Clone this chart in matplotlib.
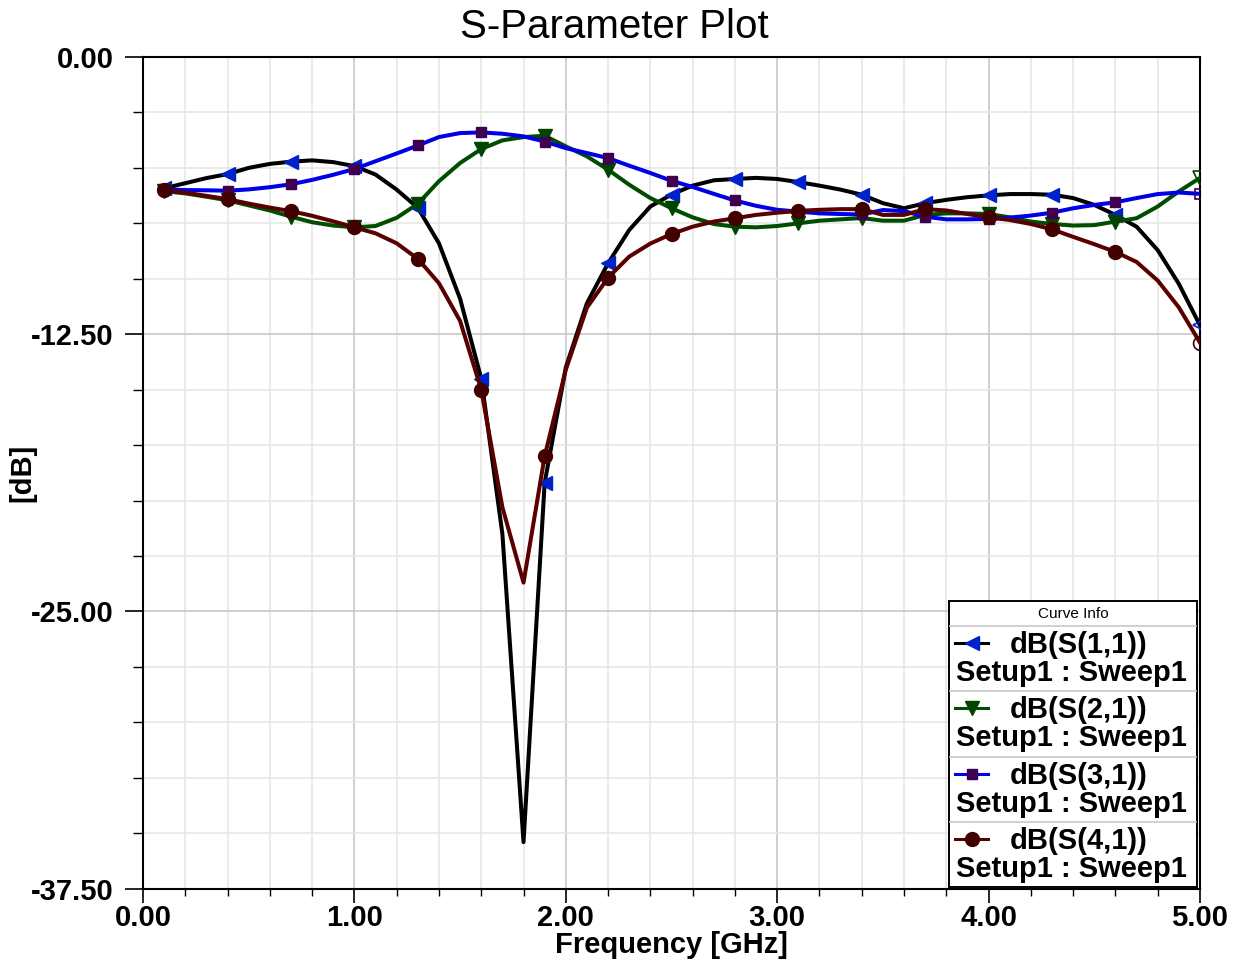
import matplotlib
matplotlib.use('Agg')
import matplotlib.pyplot as plt
from matplotlib.lines import Line2D
from matplotlib.patches import Rectangle
from matplotlib.ticker import MultipleLocator, FuncFormatter

# ---------------- data ----------------
freq_ghz = [0.1, 0.2, 0.3, 0.4, 0.5, 0.6, 0.7, 0.8, 0.9, 1.0,
            1.1, 1.2, 1.3, 1.4, 1.5, 1.6, 1.7, 1.8, 1.9, 2.0,
            2.1, 2.2, 2.3, 2.4, 2.5, 2.6, 2.7, 2.8, 2.9, 3.0,
            3.1, 3.2, 3.3, 3.4, 3.5, 3.6, 3.7, 3.8, 3.9, 4.0,
            4.1, 4.2, 4.3, 4.4, 4.5, 4.6, 4.7, 4.8, 4.9, 5.0]

s11_db = [-5.92, -5.69, -5.46, -5.28, -5.00, -4.82, -4.72, -4.66, -4.74, -4.92,
          -5.30, -5.98, -6.80, -8.40, -10.90, -14.50, -21.50, -35.40, -19.20, -14.00,
          -11.10, -9.30, -7.80, -6.74, -6.20, -5.80, -5.56, -5.50, -5.45, -5.50,
          -5.64, -5.80, -5.98, -6.21, -6.59, -6.82, -6.59, -6.44, -6.32, -6.24,
          -6.18, -6.18, -6.21, -6.36, -6.67, -7.12, -7.65, -8.71, -10.23, -12.10]

s21_db = [-6.05, -6.15, -6.30, -6.46, -6.69, -6.92, -7.20, -7.45, -7.60, -7.68,
          -7.62, -7.25, -6.62, -5.60, -4.78, -4.15, -3.76, -3.61, -3.55, -4.03,
          -4.48, -5.08, -5.76, -6.36, -6.82, -7.23, -7.53, -7.65, -7.68, -7.62,
          -7.50, -7.38, -7.32, -7.26, -7.38, -7.38, -7.12, -7.05, -7.05, -7.08,
          -7.23, -7.42, -7.53, -7.60, -7.58, -7.42, -7.27, -6.74, -6.06, -5.45]

s31_db = [-5.97, -6.00, -6.01, -6.03, -5.97, -5.87, -5.74, -5.54, -5.31, -5.05,
          -4.70, -4.35, -3.99, -3.61, -3.43, -3.40, -3.46, -3.58, -3.81, -4.11,
          -4.33, -4.56, -4.90, -5.23, -5.58, -5.86, -6.17, -6.47, -6.71, -6.89,
          -6.97, -7.05, -7.08, -7.10, -6.90, -6.95, -7.20, -7.32, -7.32, -7.30,
          -7.24, -7.15, -7.02, -6.82, -6.67, -6.55, -6.36, -6.18, -6.11, -6.17]

s41_db = [-6.00, -6.12, -6.26, -6.41, -6.61, -6.79, -6.95, -7.16, -7.41, -7.68,
          -7.95, -8.40, -9.10, -10.20, -11.90, -15.00, -20.30, -23.70, -18.00, -14.10,
          -11.30, -9.95, -9.00, -8.41, -7.98, -7.65, -7.42, -7.27, -7.12, -7.02,
          -6.94, -6.89, -6.86, -6.86, -7.12, -7.12, -6.86, -6.92, -7.08, -7.23,
          -7.35, -7.53, -7.77, -8.11, -8.44, -8.79, -9.24, -10.08, -11.29, -12.88]

curve_names = ['dB(S(1,1))', 'dB(S(2,1))', 'dB(S(3,1))', 'dB(S(4,1))']
setup_label = 'Setup1 : Sweep1'
x_ticks = [0, 1, 2, 3, 4, 5]
y_ticks = [0.0, -12.5, -25.0, -37.5]

# ---------------- style ----------------
plt.rcParams['font.family'] = ['Liberation Sans', 'DejaVu Sans']
plt.rcParams['font.weight'] = 'bold'
plt.rcParams['axes.unicode_minus'] = False

W, H = 1237, 963
fig = plt.figure(figsize=(W / 100, H / 100), dpi=100)
ax_l, ax_r, ax_t, ax_b = 143, 1200, 57, 888.7
ax = fig.add_axes([ax_l / W, 1 - ax_b / H, (ax_r - ax_l) / W, (ax_b - ax_t) / H])

styles = [
    dict(color='#000000', marker='<', mfc='#0022cc', mec='#0022cc', ms=10),
    dict(color='#004d00', marker='v', mfc='#004400', mec='#004400', ms=10),
    dict(color='#0000e6', marker='s', mfc='#400050', mec='#400050', ms=7),
    dict(color='#5a0000', marker='o', mfc='#420000', mec='#420000', ms=10),
]
series = [s11_db, s21_db, s31_db, s41_db]
mark_idx = list(range(0, 46, 3))

for s, st in zip(series, styles):
    ax.plot(freq_ghz, s, color=st['color'], lw=2.9, marker=st['marker'],
            ms=st['ms'], mfc=st['mfc'], mec=st['mec'], markevery=mark_idx,
            zorder=3, solid_joinstyle='round')
    ax.plot(freq_ghz[-1:], s[-1:], ls='none', marker=st['marker'], ms=st['ms'],
            mfc='none', mec=st['mfc'], mew=1.2, zorder=3)

ax.set_xlim(0, 5)
ax.set_ylim(-37.5, 0)
ax.set_xticks(x_ticks)
ax.set_yticks(y_ticks)
ax.xaxis.set_minor_locator(MultipleLocator(0.2))
ax.yaxis.set_minor_locator(MultipleLocator(2.5))
fmt = FuncFormatter(lambda v, p: '%.2f' % v)
ax.xaxis.set_major_formatter(fmt)
ax.yaxis.set_major_formatter(fmt)

ax.grid(which='minor', color='#e6e6e6', lw=1.2, zorder=0)
ax.grid(which='major', color='#c8c8c8', lw=1.2, zorder=0)
ax.set_axisbelow(True)

ax.tick_params(axis='y', which='major', direction='out', length=13, width=1.2,
               pad=8, labelsize=21)
ax.tick_params(axis='y', which='minor', direction='out', length=7, width=1.0)
ax.tick_params(axis='x', which='major', direction='out', length=10, width=1.2,
               pad=1, labelsize=21)
ax.tick_params(axis='x', which='minor', direction='out', length=5, width=1.0)
for sp in ax.spines.values():
    sp.set_linewidth(1.5)

ax.set_xlabel('Frequency [GHz]', fontsize=21, fontweight='bold')
ax.xaxis.set_label_coords(0.5, (ax_b - 945) / (ax_b - ax_t))
ax.xaxis.label.set_va('center')
ax.set_ylabel('[dB]', fontsize=21, fontweight='bold')
ax.yaxis.set_label_coords((22 - ax_l) / (ax_r - ax_l), 0.5)
ax.yaxis.label.set_va('center')
ax.yaxis.label.set_ha('center')

fig.text(614.5 / W, 1 - 27 / H, 'S-Parameter Plot', ha='center', va='center',
         fontsize=29, fontweight='normal')

# ---------------- custom legend (Curve Info box) ----------------
def fx(x):
    return x / W

def fy(y):
    return 1 - y / H

lg_l, lg_r, lg_t, lg_b = 949, 1197, 601, 887
hdr_b = 626
row_h = (lg_b - hdr_b) / 4.0

fig.add_artist(Rectangle((fx(lg_l), fy(lg_b)), fx(lg_r) - fx(lg_l), fy(lg_t) - fy(lg_b),
                         transform=fig.transFigure, facecolor='white',
                         edgecolor='#000000', lw=1.4, zorder=5))
fig.text(fx((lg_l + lg_r) / 2), fy((lg_t + hdr_b) / 2), 'Curve Info', ha='center',
         va='center', fontsize=11, fontweight='normal', zorder=7)
for k in range(4):
    ytop = hdr_b + k * row_h
    fig.add_artist(Line2D([fx(lg_l + 1), fx(lg_r - 1)], [fy(ytop), fy(ytop)],
                          transform=fig.transFigure, color='#c8c8c8', lw=1.2, zorder=6))
    st = styles[k]
    fig.add_artist(Line2D([fx(955), fx(988)], [fy(ytop + 17), fy(ytop + 17)],
                          transform=fig.transFigure, color=st['color'], lw=2.2, zorder=6))
    fig.add_artist(Line2D([fx(972)], [fy(ytop + 17)], transform=fig.transFigure,
                          ls='none', marker=st['marker'], ms=st['ms'],
                          mfc=st['mfc'], mec=st['mec'], zorder=7))
    fig.text(fx(1010), fy(ytop + 19), curve_names[k], ha='left', va='center',
             fontsize=21, fontweight='bold', zorder=7)
    fig.text(fx(956), fy(ytop + 47), setup_label, ha='left', va='center',
             fontsize=21, fontweight='bold', zorder=7)

fig.savefig('out.png', dpi=100)
